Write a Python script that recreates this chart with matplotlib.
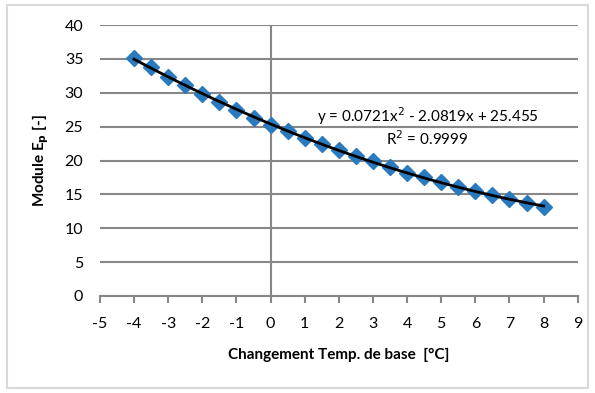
import matplotlib.pyplot as plt
import numpy as np
from matplotlib.patches import Rectangle

plt.rcParams["font.family"] = ["Lato", "DejaVu Sans"]
plt.rcParams["axes.unicode_minus"] = False

# data
temp_change = [-4, -3.5, -3, -2.5, -2, -1.5, -1, -0.5, 0, 0.5, 1, 1.5, 2,
               2.5, 3, 3.5, 4, 4.5, 5, 5.5, 6, 6.5, 7, 7.5, 8]
module_ep = [35.1, 33.8, 32.4, 31.1, 29.8, 28.6, 27.4, 26.3, 25.3, 24.4,
             23.4, 22.4, 21.5, 20.6, 19.9, 19.0, 18.2, 17.5, 16.8, 16.1,
             15.5, 14.9, 14.3, 13.7, 13.1]
x_ticks = list(range(-5, 10))
y_ticks = list(range(0, 45, 5))
eq_text = "y = 0.0721x$^2$ - 2.0819x + 25.455"
r2_text = "R$^2$ = 0.9999"

grid_col = "#878787"

fig = plt.figure(figsize=(5.95, 3.93), dpi=100)
fig.patches.append(Rectangle((0.012, 0.012), 0.976, 0.976, transform=fig.transFigure,
                             fill=False, edgecolor="#d9d9d9", linewidth=1.5))
ax = fig.add_axes([0.168, 0.247, 0.803, 0.689])

ax.set_xlim(-5, 9)
ax.set_ylim(0, 40)
ax.set_xticks(x_ticks)
ax.set_yticks(y_ticks)
ax.grid(True, axis="y", color=grid_col, linewidth=1.5)
ax.set_axisbelow(True)
for s in ["top", "right", "left"]:
    ax.spines[s].set_visible(False)
ax.spines["bottom"].set_color(grid_col)
ax.spines["bottom"].set_linewidth(1.5)
ax.axvline(0, color=grid_col, linewidth=1.5, zorder=1)
ax.tick_params(axis="x", direction="out", length=5, width=1.5, color=grid_col,
               labelsize=11.5, pad=10)
ax.tick_params(axis="y", length=0, labelsize=11.5, pad=12)

ax.plot(temp_change, module_ep, linestyle="none", marker="D", markersize=8,
        color="#2a7abf", zorder=3)

# polynomial trendline (order 2)
coef = np.polyfit(temp_change, module_ep, 2)
xs = np.linspace(min(temp_change), max(temp_change), 100)
ax.plot(xs, np.polyval(coef, xs), color="black", linewidth=2, zorder=4)

ax.text(4.6, 26.6, eq_text, ha="center", va="center", fontsize=11)
ax.text(4.6, 23.3, r2_text, ha="center", va="center", fontsize=11)

ax.set_xlabel("Changement Temp. de base  [°C]", fontsize=11, fontweight="bold",
              labelpad=12)
ax.set_ylabel("Module E$_\\mathbf{p}$ [-]", fontsize=11, fontweight="bold",
              labelpad=10)

plt.savefig("out.png", dpi=100)
